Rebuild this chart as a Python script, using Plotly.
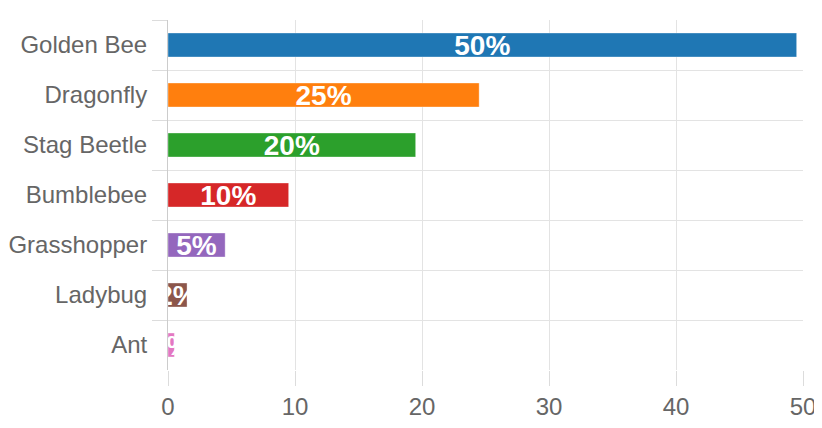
import plotly.graph_objects as go

insects = ["Golden Bee", "Dragonfly", "Stag Beetle", "Bumblebee", "Grasshopper", "Ladybug", "Ant"]
shares = [49.5, 24.5, 19.5, 9.5, 4.5, 1.5, 0.5]
share_labels = ["50%", "25%", "20%", "10%", "5%", "2%", "1%"]
bar_colors = ["#1f77b4", "#ff7f0e", "#2ca02c", "#d62728", "#9467bd", "#8c564b", "#e377c2"]

fig = go.Figure(go.Bar(
    x=shares,
    y=insects,
    orientation="h",
    width=0.48,
    marker=dict(color=bar_colors, line=dict(color="rgba(255,255,255,0.35)", width=1)),
    text=share_labels,
    textposition="inside",
    insidetextanchor="middle",
    textangle=0,
    constraintext="none",
    textfont=dict(family="Liberation Sans", size=28, color="white", weight="bold"),
    cliponaxis=True,
    hoverinfo="skip",
))

# page body has an 8px margin, so the figure is shrunk and shifted to match
fig.update_layout(
    width=814,
    height=420,
    margin=dict(l=160, r=19, t=12, b=58),
    plot_bgcolor="white",
    paper_bgcolor="white",
    font=dict(family="Liberation Sans", size=24, color="#666666"),
    showlegend=False,
)

fig.update_xaxes(
    range=[0, 50],
    dtick=10,
    showgrid=True,
    gridcolor="#e3e3e3",
    gridwidth=1,
    zeroline=False,
    ticks="outside",
    ticklen=15,
    tickwidth=1,
    tickcolor="#dcdcdc",
    automargin=False,
    tickfont=dict(size=24, color="#666666"),
)

fig.update_yaxes(
    autorange="reversed",
    tickson="boundaries",
    showgrid=True,
    gridcolor="#e3e3e3",
    gridwidth=1,
    ticks="outside",
    ticklen=15,
    tickwidth=1,
    tickcolor="#dcdcdc",
    showline=True,
    linecolor="#cccccc",
    linewidth=1,
    automargin=False,
    ticklabelstandoff=15,
    tickfont=dict(size=24, color="#666666"),
)

fig.write_html("out.html")
